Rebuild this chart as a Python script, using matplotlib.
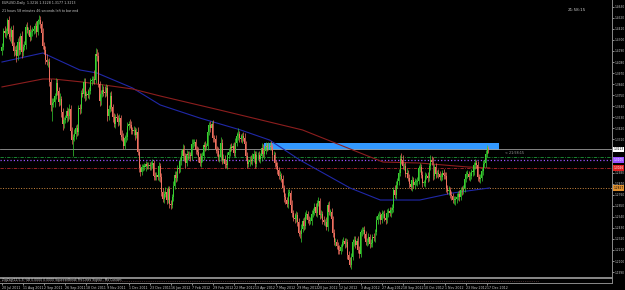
import numpy as np
import matplotlib
matplotlib.use('Agg')
import matplotlib.pyplot as plt
from matplotlib.patches import Rectangle
from matplotlib.ticker import MultipleLocator, FormatStrFormatter

# EURUSD daily, 20 Jul 2011 .. 18 Dec 2012, closes in pips above 1.0000
first_open = 4190
closes = [
    4230, 4390, 4370,
    4390, 4500, 4360, 4330, 4400,
    4240, 4190, 4200, 4140, 4280,
    4200, 4340, 4180, 4230, 4250,
    4430, 4400, 4400, 4330, 4380,
    4390, 4410, 4440, 4380, 4490,
    4500, 4460, 4370, 4240, 4200,
    4100, 4080, 4080, 3880, 3650,
    3670, 3680, 3740, 3870, 3790,
    3680, 3710, 3580, 3460, 3500,
    3520, 3590, 3540, 3610, 3390,
    3300, 3330, 3360, 3420, 3380,
    3620, 3610, 3770, 3760, 3880,
    3740, 3760, 3750, 3790, 3890,
    3900, 3910, 3900, 4160, 4140,
    3860, 3690, 3760, 3800, 3780,
    3770, 3820, 3540, 3610, 3740,
    3630, 3530, 3460, 3530, 3520,
    3480, 3520, 3350, 3330, 3240,
    3320, 3330, 3440, 3460, 3450,
    3400, 3390, 3400, 3350, 3380,
    3180, 3030, 2990, 3040, 3040,
    3040, 3070, 3050, 3060, 3050,
    3060, 3080, 2950, 2940, 2960,
    2940, 3050, 2940, 2790, 2720,
    2770, 2790, 2710, 2820, 2670,
    2660, 2740, 2850, 2960, 2930,
    3030, 3020, 3100, 3140, 3210,
    3140, 3080, 3160, 3150, 3150,
    3140, 3260, 3270, 3280, 3200,
    3180, 3130, 3080, 3140, 3140,
    3250, 3230, 3240, 3380, 3450,
    3420, 3460, 3320, 3310, 3210,
    3190, 3130, 3130, 3270, 3110,
    3120, 3070, 3060, 3150, 3180,
    3230, 3220, 3240, 3170, 3270,
    3340, 3360, 3320, 3310, 3340,
    3320, 3260, 3140, 3070, 3090,
    3110, 3100, 3120, 3160, 3070,
    3150, 3150, 3120, 3140, 3220,
    3160, 3190, 3240, 3230, 3240,
    3240, 3230, 3150, 3150, 3080,
    3050, 3010, 2950, 2950, 2920,
    2830, 2740, 2710, 2670, 2780,
    2780, 2660, 2580, 2530, 2520,
    2560, 2490, 2380, 2370, 2420,
    2500, 2450, 2560, 2570, 2510,
    2500, 2500, 2570, 2600, 2640,
    2580, 2680, 2700, 2560, 2570,
    2510, 2490, 2490, 2440, 2660,
    2590, 2590, 2520, 2380, 2290,
    2290, 2250, 2210, 2200, 2240,
    2290, 2300, 2270, 2290, 2160,
    2110, 2060, 2140, 2290, 2310,
    2260, 2300, 2210, 2170, 2390,
    2400, 2410, 2370, 2290, 2290,
    2340, 2270, 2280, 2340, 2330,
    2390, 2510, 2550, 2560, 2510,
    2570, 2570, 2530, 2510, 2580,
    2600, 2580, 2610, 2630, 2810,
    2760, 2860, 2900, 2980, 3120,
    3110, 3050, 3050, 2970, 2980,
    2930, 2870, 2840, 2910, 2860,
    2890, 2890, 2900, 3030, 3040,
    2960, 2880, 2880, 2950, 2950,
    2930, 3050, 3110, 3090, 2950,
    3040, 2970, 2980, 2970, 2940,
    2940, 2980, 2960, 2950, 2830,
    2800, 2810, 2760, 2750, 2710,
    2710, 2720, 2740, 2770, 2740,
    2810, 2800, 2830, 2920, 2970,
    2970, 2940, 2950, 2990, 2990,
    3060, 3080, 3060, 2940, 2920,
    2930, 3000, 3070, 3080, 3160,
    3225, 3213,
]
# upper / lower wicks in pips beyond the body, ten bars per row
up = [
    40, 30, 50, 30, 20, 40, 60, 40, 50, 40,
    35, 50, 40, 60, 30, 45, 30, 40, 30, 45,
    30, 50, 30, 40, 20, 30, 45, 20, 48, 40,
    30, 50, 40, 40, 55, 30, 40, 30, 50, 40,
    30, 50, 40, 40, 60, 30, 45, 30, 30, 40,
    35, 50, 40, 40, 30, 50, 30, 40, 30, 45,
    30, 50, 40, 40, 30, 50, 40, 30, 40, 30,
    87, 60, 50, 40, 30, 40, 60, 40, 60, 40,
    30, 40, 40, 50, 30, 40, 30, 40, 30, 45,
    30, 50, 40, 30, 50, 40, 30, 50, 40, 30,
    40, 30, 40, 50, 30, 40, 30, 30, 40, 30,
    20, 30, 30, 40, 40, 30, 40, 30, 50, 40,
    30, 40, 40, 30, 50, 40, 30, 30, 40, 30,
    50, 40, 40, 30, 40, 30, 60, 50, 40, 30,
    40, 30, 40, 30, 50, 40, 30, 30, 40, 50,
    40, 30, 40, 30, 40, 30, 40, 36, 40, 30,
    40, 30, 40, 30, 40, 30, 60, 40, 40, 30,
    40, 30, 40, 30, 40, 30, 40, 50, 40, 60,
    30, 40, 30, 40, 50, 30, 40, 30, 30, 40,
    50, 40, 30, 40, 30, 40, 30, 50, 40, 30,
    45, 30, 40, 40, 50, 30, 40, 30, 30, 40,
    30, 45, 30, 40, 30, 40, 30, 40, 40, 30,
    45, 30, 50, 40, 30, 40, 30, 45, 30, 40,
    30, 40, 30, 40, 35, 40, 30, 40, 40, 30,
    40, 30, 40, 30, 40, 30, 45, 30, 40, 30,
    40, 30, 40, 40, 30, 40, 50, 30, 30, 40,
    30, 40, 30, 40, 30, 40, 30, 40, 40, 30,
    50, 40, 30, 40, 30, 40, 30, 40, 40, 30,
    40, 30, 40, 30, 40, 30, 40, 30, 40, 30,
    40, 30, 40, 30, 40, 30, 40, 30, 50, 40,
    30, 40, 30, 50, 40, 30, 40, 50, 30, 40,
    30, 40, 30, 40, 30, 40, 30, 40, 30, 40,
    30, 40, 30, 40, 30, 40, 30, 40, 30, 40,
    30, 40, 30, 40, 30, 40, 30, 40, 30, 40,
    30, 40, 30, 40, 30, 40, 30, 40, 30, 40,
    30, 40, 30, 40, 30, 40, 30, 40, 30, 40,
    30, 40, 30, 40, 30, 40, 30, 40, 30, 15,
]
dn = [
    40, 30, 40, 50, 40, 50, 40, 60, 20, 50,
    40, 60, 40, 50, 40, 60, 40, 30, 40, 30,
    50, 40, 30, 40, 30, 40, 50, 30, 30, 40,
    50, 30, 40, 40, 30, 50, 40, 60, 155, 40,
    50, 30, 40, 40, 30, 50, 60, 40, 30, 40,
    50, 30, 40, 40, 155, 40, 50, 40, 30, 50,
    40, 30, 40, 50, 40, 30, 40, 30, 40, 30,
    40, 30, 50, 30, 50, 40, 30, 40, 40, 30,
    50, 40, 30, 40, 50, 30, 40, 30, 40, 30,
    50, 40, 30, 30, 40, 30, 40, 30, 40, 30,
    40, 50, 30, 30, 40, 45, 30, 40, 30, 40,
    30, 30, 40, 40, 30, 40, 30, 30, 30, 40,
    50, 40, 30, 40, 30, 40, 30, 46, 40, 30,
    40, 30, 40, 30, 40, 30, 40, 30, 40, 50,
    30, 40, 30, 40, 30, 40, 30, 40, 30, 40,
    30, 40, 50, 30, 40, 30, 40, 30, 40, 30,
    40, 30, 40, 50, 30, 40, 30, 40, 30, 40,
    30, 40, 30, 40, 30, 40, 30, 40, 30, 40,
    40, 30, 40, 30, 40, 30, 40, 30, 40, 30,
    40, 30, 40, 30, 40, 30, 40, 40, 30, 40,
    30, 40, 30, 40, 30, 40, 30, 40, 30, 40,
    30, 40, 30, 40, 50, 40, 30, 40, 30, 40,
    40, 30, 40, 30, 40, 30, 40, 82, 30, 40,
    30, 40, 30, 40, 30, 40, 30, 40, 30, 40,
    30, 40, 30, 40, 30, 40, 30, 40, 30, 40,
    30, 40, 30, 40, 30, 40, 30, 30, 40, 30,
    40, 30, 40, 30, 18, 40, 30, 40, 30, 40,
    30, 40, 30, 40, 30, 40, 30, 40, 30, 40,
    30, 40, 30, 40, 30, 40, 30, 40, 30, 40,
    30, 40, 30, 40, 30, 40, 30, 40, 30, 40,
    30, 40, 30, 40, 30, 40, 30, 40, 30, 40,
    30, 40, 30, 40, 30, 40, 30, 40, 30, 40,
    30, 40, 30, 40, 30, 40, 30, 40, 30, 40,
    30, 40, 30, 40, 30, 40, 30, 40, 30, 40,
    30, 40, 30, 40, 49, 40, 30, 40, 30, 40,
    30, 40, 30, 40, 30, 40, 30, 40, 30, 40,
    30, 40, 30, 40, 30, 40, 30, 40, 30, 36,
]

# moving averages (bar index, price)
ma_blue_x = [0, 31, 59, 72, 99, 120, 150, 181, 203, 226, 264, 287, 317, 342, 370]
ma_blue_y = [1.4080, 1.4170, 1.4001, 1.3971, 1.3822, 1.3653, 1.3523, 1.3404,
             1.3304, 1.3105, 1.2827, 1.2707, 1.2707, 1.2777, 1.2827]
ma_red_x = [0, 31, 39, 61, 99, 120, 165, 228, 289, 317, 353, 370]
ma_red_y = [1.3832, 1.3911, 1.3911, 1.3881, 1.3812, 1.3742, 1.3603, 1.3404,
            1.3085, 1.3075, 1.3036, 1.3026]

# horizontal levels: bid, green, purple, red, orange
level_prices = [1.3213, 1.3135, 1.3105, 1.3026, 1.2827]
zone_bars = [199, 377]
zone_prices = [1.3207, 1.3271]

date_labels = ['20 Jul 2011', '11 Aug 2011', '2 Sep 2011', '26 Sep 2011', '18 Oct 2011',
               '9 Nov 2011', '1 Dec 2011', '23 Dec 2011', '16 Jan 2012', '7 Feb 2012',
               '29 Feb 2012', '22 Mar 2012', '13 Apr 2012', '7 May 2012', '29 May 2012',
               '20 Jun 2012', '12 Jul 2012', '3 Aug 2012', '27 Aug 2012', '18 Sep 2012',
               '10 Oct 2012', '1 Nov 2012', '23 Nov 2012', '17 Dec 2012']
header = 'EURUSD,Daily  1.3216 1.3228 1.3177 1.3213'
header2 = '21 hours 58 minutes 46 seconds left to bar end'
sub_title = 'ZigZag(12,5,3) %B 0.0000 0.0000 SqueezeBreak Pro Lines Signal - Ma Custom'

n = min(len(closes), len(up), len(dn))
c = 1 + np.array(closes[:n]) / 10000
o = np.r_[1 + first_open / 10000, c[:-1]]
hi = np.maximum(o, c) + np.array(up[:n]) / 10000
lo = np.minimum(o, c) - np.array(dn[:n]) / 10000
idx = np.arange(n)
bull = c >= o

fg = '#c8c8c8'
plt.rcParams['font.family'] = 'DejaVu Sans'
fig = plt.figure(figsize=(6.25, 2.9), dpi=100, facecolor='black')
ax = fig.add_axes([0, 13 / 290, 612 / 625, 277 / 290], facecolor='black')
ax2 = fig.add_axes([0, 7 / 290, 612 / 625, 5 / 290], facecolor='black', sharex=ax)

ax.add_patch(Rectangle((zone_bars[0], zone_prices[0]), zone_bars[1] - zone_bars[0],
                       zone_prices[1] - zone_prices[0], color='#3399ff', lw=0, zorder=1))

ax.axhline(level_prices[0], color='#9a9a9a', lw=0.6, zorder=1)
ax.axhline(level_prices[1], color='#1f9a3a', lw=0.6, ls=(0, (4, 1.5, 1, 1.5)), zorder=1)
ax.axhline(level_prices[2], color='#9a50ff', lw=0.9, ls=':', zorder=1)
ax.axhline(level_prices[3], color='#b02828', lw=0.6, ls=(0, (4, 1.5, 1, 1.5)), zorder=1)
ax.axhline(level_prices[4], color='#d08a40', lw=0.7, ls=':', zorder=1)

ax.plot(ma_blue_x, ma_blue_y, color='#2028a8', lw=0.8, zorder=2)
ax.plot(ma_red_x, ma_red_y, color='#8c1e1e', lw=0.8, zorder=2)

cols = np.where(bull, '#38d030', '#f07060')
ax.vlines(idx, lo, hi, colors=cols, lw=0.5, zorder=3)
ax.bar(idx, np.maximum(np.abs(c - o), 0.0003), bottom=np.minimum(o, c), width=0.75,
       color=cols, lw=0, zorder=4)

ax.set_xlim(-1.5, 462.8)
ax.set_ylim(1.1941, 1.4697)
ax.yaxis.tick_right()
ax.yaxis.set_major_locator(MultipleLocator(0.011))
ax.yaxis.set_major_formatter(FormatStrFormatter('%.4f'))
ax.tick_params(axis='y', colors=fg, labelsize=2.1, length=1.5, width=0.5, pad=0.6)
ax.tick_params(axis='x', bottom=False, labelbottom=False)
for sp in ax.spines.values():
    sp.set_color('#8a8a8a')
    sp.set_linewidth(0.7)
ax.spines['left'].set_visible(False)
ax.spines['top'].set_visible(False)

# price tags on the right axis (they cover the scale labels underneath)
tags = [(level_prices[0], 'white', 'black'), (level_prices[2], '#9a50ff', 'white'),
        (level_prices[3], '#e02020', 'white'), (level_prices[4], '#e09030', 'black')]
for p, bg, tc in tags:
    ax.text(1.002, p, '%.4f' % p, transform=ax.get_yaxis_transform(), fontsize=2.1,
            color=tc, va='center', ha='left', clip_on=False, zorder=6,
            bbox=dict(boxstyle='square,pad=0.2', fc=bg, ec='none'))
fig.canvas.draw()
for t in ax.get_yticklabels():
    v = t.get_position()[1]
    if any(abs(v - p) < 0.003 for p, _, _ in tags):
        t.set_visible(False)

ax.text(0.004, 0.995, header, transform=ax.transAxes, fontsize=2.3, color=fg, va='top')
ax.text(0.004, 0.968, header2, transform=ax.transAxes, fontsize=2.3, color=fg, va='top')
ax.text(0.928, 0.965, '21:58:15', transform=ax.transAxes, fontsize=3, color=fg, va='center')
ax.text(n + 12, c[-1] - 0.0035, '< 21:58:15', fontsize=2.4, color='#a0a0a0', va='center')

ax2.set_ylim(0, 1)
ax2.axhline(0.45, xmax=0.88, color='#7a5050', lw=0.5, ls=':')
ax2.text(0.004, 0.5, sub_title, transform=ax2.transAxes, fontsize=2.2, color=fg, va='center')
ax2.set_yticks([])
ax2.set_xticks(np.arange(len(date_labels)) * 16)
ax2.set_xticklabels(date_labels, ha='left')
ax2.tick_params(axis='x', colors=fg, labelsize=2.3, length=1.5, width=0.5, pad=0.8)
for sp in ax2.spines.values():
    sp.set_color('#8a8a8a')
    sp.set_linewidth(0.7)
ax2.spines['left'].set_visible(False)

fig.savefig('out.png', dpi=100, facecolor='black')
